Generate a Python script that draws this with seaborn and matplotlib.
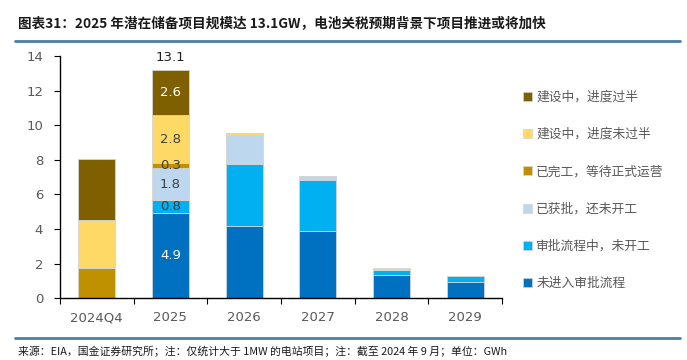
import numpy as np
import pandas as pd
import matplotlib
matplotlib.use("Agg")
import matplotlib.pyplot as plt
import seaborn as sns
from matplotlib.patches import Patch
from matplotlib.lines import Line2D

# data (GWh)
years = ["2024Q4", "2025", "2026", "2027", "2028", "2029"]
not_in_review = [0, 4.9, 4.17, 3.9, 1.33, 0.95]      # 未进入审批流程
in_review = [0, 0.8, 3.57, 2.93, 0.27, 0.35]          # 审批流程中，未开工
approved = [0, 1.8, 1.72, 0.22, 0.02, 0]              # 已获批，还未开工
completed = [1.72, 0.3, 0, 0, 0, 0]                   # 已完工，等待正式运营
building_early = [2.8, 2.8, 0.08, 0, 0.1, 0]          # 建设中，进度未过半
building_late = [3.55, 2.6, 0, 0, 0, 0]               # 建设中，进度过半
total_2025 = "13.1"

series = [
    ("未进入审批流程", not_in_review, "#0070C0"),
    ("审批流程中，未开工", in_review, "#00B0F0"),
    ("已获批，还未开工", approved, "#BDD7EE"),
    ("已完工，等待正式运营", completed, "#BF9000"),
    ("建设中，进度未过半", building_early, "#FFD966"),
    ("建设中，进度过半", building_late, "#7F6000"),
]

sns.set_style("white")
plt.rcParams["font.family"] = ["Noto Sans CJK SC", "DejaVu Sans"]

fig = plt.figure(figsize=(6.87, 3.6), dpi=100)
ax = fig.add_axes([0.087, 0.172, 0.644, 0.672])

bottom = np.zeros(len(years))
for name, vals, col in series:
    df = pd.DataFrame({"year": years, "value": vals})
    sns.barplot(data=df, x="year", y="value", order=years, color=col,
                width=0.5, bottom=bottom.copy(), edgecolor="#d4d4d4",
                linewidth=0.6, saturation=1, errorbar=None, ax=ax)
    bottom += np.array(vals)

# labels on the 2025 bar
cum = 0
label_cols = ["white", "#404040", "#404040", "#404040", "#404040", "white"]
for (name, vals, col), lc in zip(series, label_cols):
    v = vals[1]
    ax.text(1, cum + v / 2, f"{v:.1f}", ha="center", va="center",
            fontsize=9.5, color=lc, family="DejaVu Sans")
    cum += v
ax.text(1, cum + 0.35, total_2025, ha="center", va="bottom", fontsize=9.5,
        color="#222222", family="DejaVu Sans")

ax.set_ylim(0, 14)
ax.set_xlim(-0.5, 5.5)
ax.set_yticks(range(0, 15, 2))
ax.set_xlabel("")
ax.set_ylabel("")
sns.despine(ax=ax)
for s in ["left", "bottom"]:
    ax.spines[s].set_color("black")
    ax.spines[s].set_linewidth(1.0)
ax.tick_params(axis="y", left=True, length=4, width=0.8, colors="black",
               labelcolor="#595959", labelsize=9.5, pad=8)
ax.tick_params(axis="x", bottom=False, labelcolor="#595959", labelsize=9.5, pad=6)
ax.set_xticks(np.arange(-0.5, 6, 1), minor=True)
ax.tick_params(axis="x", which="minor", bottom=True, length=4, width=0.8, colors="black")
for lab in ax.get_xticklabels() + ax.get_yticklabels():
    lab.set_family("DejaVu Sans")

handles = [Patch(facecolor=col, edgecolor="#d4d4d4", linewidth=0.5, label=name)
           for name, vals, col in series[::-1]]
leg = fig.legend(handles=handles, loc="upper left", bbox_to_anchor=(0.745, 0.78),
                 frameon=False, fontsize=9.2, labelspacing=1.9, handlelength=0.7,
                 handleheight=0.7, handletextpad=0.3, labelcolor="#595959")

fig.text(0.026, 0.935, "图表31：2025 年潜在储备项目规模达 13.1GW，电池关税预期背景下项目推进或将加快",
         fontsize=9.8, fontweight="bold", style="italic", color="#1a1a1a", va="center")
fig.add_artist(Line2D([0.022, 0.99], [0.885, 0.885], color="#4A7EA5", linewidth=2))
fig.add_artist(Line2D([0.022, 0.99], [0.06, 0.06], color="#4A7EA5", linewidth=2))
fig.text(0.026, 0.025, "来源：EIA，国金证券研究所；注：仅统计大于 1MW 的电站项目；注：截至 2024 年 9 月；单位：GWh",
         fontsize=7.8, color="#1a1a1a", va="center")

fig.savefig("out.png", dpi=100)
